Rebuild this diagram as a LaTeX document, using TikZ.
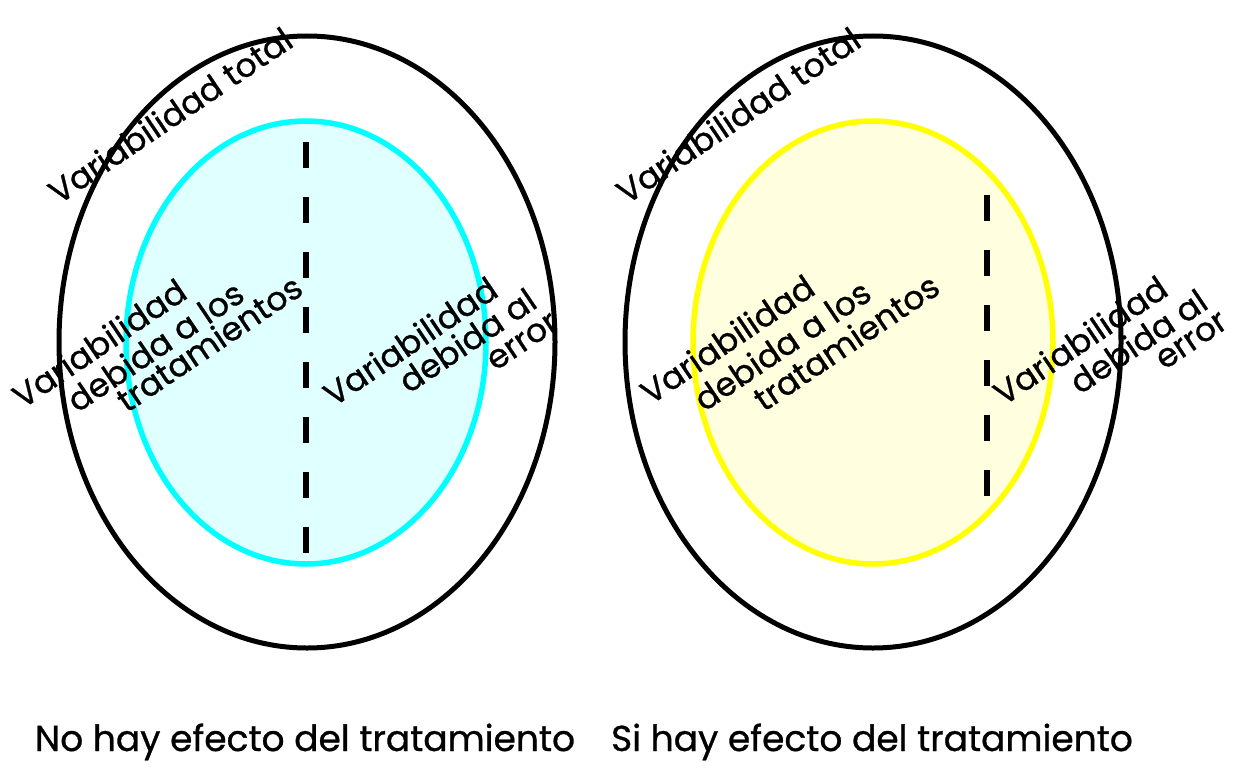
\documentclass[tikz,border=0pt]{standalone}
\usepackage{fontspec}
\setmainfont{Poppins}[FakeBold=0.8]
\usetikzlibrary{shapes.geometric}
\definecolor{cyanline}{HTML}{00FFFF}
\definecolor{cyanfill}{HTML}{E0FFFF}
\definecolor{yelline}{HTML}{FFFF00}
\definecolor{yelfill}{HTML}{FFFFE0}
\tikzset{
  outer/.style={ellipse, draw=black, line width=5pt, minimum width=496pt, minimum height=612pt, inner sep=0pt},
  inner/.style={ellipse, line width=5.5pt, minimum width=360pt, minimum height=443pt, inner sep=0pt},
  divline/.style={line width=6.5pt, dash pattern=on 26pt off 29pt},
  lbl/.style={rotate=34, inner sep=0pt, font=\fontsize{33}{38}\selectfont},
  caption/.style={anchor=base, inner sep=0pt, font=\fontsize{36}{40}\selectfont}
}
\begin{document}
\begin{tikzpicture}[x=1pt,y=-1pt]
\useasboundingbox (0,0) rectangle (1248,768);
% left diagram
\node[outer] (o1) at (307,342) {};
\node[inner, draw=cyanline, fill=cyanfill] (i1) at (306,342.5) {};
\coordinate (d1t) at (306,142);
\coordinate (d1b) at (306,553);
\draw[divline] (d1t) -- (d1b);
\node[lbl] (t1) at (170,115) {Variabilidad total};
\node[lbl] (a1) at (99,343) {Variabilidad};
\node[lbl] (a2) at (155,346) {debida a los};
\node[lbl] (a3) at (209,343) {tratamientos};
\node[lbl] (b1) at (410,341) {Variabilidad};
\node[lbl] (b2) at (467,340) {debida al};
\node[lbl] (b3) at (523,342) {error};
% right diagram
\node[outer] (o2) at (873,342) {};
\node[inner, draw=yelline, fill=yelfill] (i2) at (873,342.5) {};
\coordinate (d2t) at (987,195);
\coordinate (d2b) at (987,497);
\draw[divline] (d2t) -- (d2b);
\node[lbl] (t2) at (738,115) {Variabilidad total};
\node[lbl] (c1) at (727,339) {Variabilidad};
\node[lbl] (c2) at (782,345) {debida a los};
\node[lbl] (c3) at (846,342) {tratamientos};
\node[lbl] (e1) at (1080,340) {Variabilidad};
\node[lbl] (e2) at (1138,341) {debida al};
\node[lbl] (e3) at (1192,341) {error};
% captions
\node[caption] (cap1) at (305,751) {No hay efecto del tratamiento};
\node[caption] (cap2) at (872,751) {Si hay efecto del tratamiento};
\end{tikzpicture}
\end{document}
